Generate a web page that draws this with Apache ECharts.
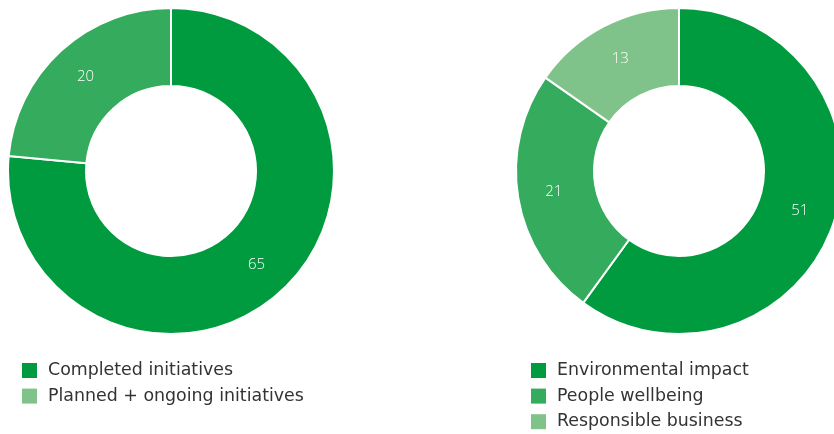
<!DOCTYPE html>
<html>
<head>
<meta charset="utf-8">
<script src="https://cdn.jsdelivr.net/npm/echarts@6/dist/echarts.min.js"></script>
<style>html,body{margin:0;padding:0;background:#fff;}#c{width:834px;height:434px;}</style>
</head>
<body>
<div id="c"></div>
<script>
const leftCategories = ['Completed initiatives', 'Planned + ongoing initiatives'];
const leftValues = [65, 20];
const rightCategories = ['Environmental impact', 'People wellbeing', 'Responsible business'];
const rightValues = [51, 21, 13];

const DARK = '#009b3e', MID = '#34ab5d', LIGHT = '#80c38a';
const leftSliceColors = [DARK, MID];
const leftLegendColors = [DARK, LIGHT];
const rightColors = [DARK, MID, LIGHT];

const FONT = 'DejaVu Sans';
const chart = echarts.init(document.getElementById('c'), null, {renderer: 'canvas'});

const legendBase = {
  orient: 'vertical', top: 362, height: 80, padding: 0, itemWidth: 15, itemHeight: 15, itemGap: 8.6,
  icon: 'rect', selectedMode: false,
  itemStyle: {borderWidth: 0},
  textStyle: {fontFamily: FONT, fontSize: 17.4, color: '#333', lineHeight: 15, padding: [0, 0, 0, 6]}
};
const labelCfg = {show: true, position: 'inside', color: '#fff', fontFamily: 'Open Sans', fontSize: 15, fontWeight: 300, formatter: '{c}'};
const pieBase = {
  type: 'pie', radius: [85, 163], startAngle: 90, clockwise: true, silent: true,
  itemStyle: {borderColor: '#fff', borderWidth: 2}, label: labelCfg, labelLine: {show: false},
  emphasis: {disabled: true}, animation: false
};

chart.setOption({
  animation: false,
  legend: [
    Object.assign({}, legendBase, {left: 22, data: leftCategories.map((n, i) => ({name: n, itemStyle: {color: leftLegendColors[i], borderWidth: 0}}))}),
    Object.assign({}, legendBase, {left: 531, data: rightCategories.map((n, i) => ({name: n, itemStyle: {color: rightColors[i], borderWidth: 0}}))})
  ],
  series: [
    Object.assign({}, pieBase, {center: [171, 171], data: leftCategories.map((n, i) => ({name: n, value: leftValues[i], itemStyle: {color: leftSliceColors[i]}}))}),
    Object.assign({}, pieBase, {center: [679, 171], data: rightCategories.map((n, i) => ({name: n, value: rightValues[i], itemStyle: {color: rightColors[i]}}))})
  ]
});
</script>
</body>
</html>
